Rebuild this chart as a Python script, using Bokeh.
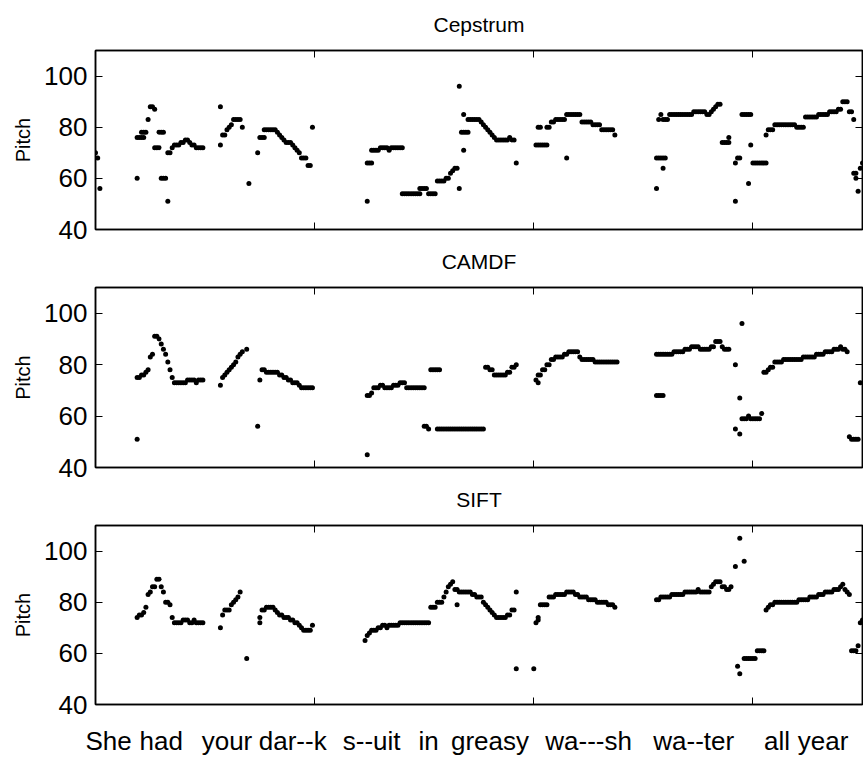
from bokeh.plotting import figure
from bokeh.models import Range1d, FixedTicker, LinearAxis, CustomJSTickFormatter
from bokeh.layouts import column
from bokeh.embed import file_html
from bokeh.resources import INLINE

# ---------------- data ----------------
panel_titles = ["Cepstrum", "CAMDF", "SIFT"]
y_label = "Pitch"
y_ticks = [40, 60, 80, 100]
x_ticks = [100, 200, 300]
x_limits = [0, 350]
y_limits = [40, 110]
words = ["She", "had", "your", "dar--k", "s--uit", "in", "greasy", "wa---sh", "wa--ter", "all", "year"]
word_frames = [6, 30, 60, 90, 126, 152, 180, 225, 273, 311, 332]

# (start frame, pitch values on consecutive frames)
cepstrum_segments = [
    (0, [70]), (1, [68]), (2, [56]),
    (19, [60]), (19, [76, 76, 76, 76]), (21, [78, 78, 78]), (24, [83]), (25, [88, 88]), (27, [87]),
    (27, [72, 72, 72]), (29, [78, 78, 78]), (30, [60, 60, 60]), (33, [51]), (33, [70, 70]),
    (35, [72, 73, 73, 73, 74, 74, 75, 75, 74, 73, 73, 72, 72, 72, 72]),
    (57, [73]), (57, [88]), (58, [77, 77]), (60, [79, 80, 81]), (63, [83, 83, 83, 83]), (67, [80]),
    (70, [58]), (74, [70]), (75, [76, 76, 76]), (77, [79, 79, 79, 79, 79, 79]),
    (83, [78, 77, 76, 75, 74, 74, 74, 73, 72, 71, 70, 68, 68, 68, 65, 65]), (99, [80]),
    (124, [51]), (124, [66, 66, 66]), (126, [71, 71, 71, 71]), (130, [72, 72, 72, 72]), (134, [71]),
    (135, [72, 72, 72, 72, 72, 72]), (140, [54, 54, 54, 54, 54, 54, 54, 54, 54]),
    (148, [56, 56, 56, 56]), (152, [54, 54, 54, 54]), (156, [59, 59, 59, 59]), (160, [60, 60]),
    (162, [62, 63, 64, 64]),
    (166, [96]), (166, [56]), (167, [78, 78, 78, 78]), (168, [71]), (168, [85]),
    (170, [83, 83, 83, 83, 83, 83]), (176, [82, 81, 80, 79, 78, 77, 76, 75]),
    (184, [75, 75, 75, 75, 75, 76, 75, 75]), (192, [66]),
    (201, [73, 73, 73, 73, 73, 73]), (202, [80, 80]), (206, [80, 80]), (208, [82, 82]),
    (210, [83, 83, 83, 83, 83]), (215, [68]), (215, [85, 85, 85, 85, 85, 85, 85]),
    (222, [82, 82, 82, 82, 82]), (227, [81, 81, 81, 81]), (231, [79, 79, 79, 79, 79, 79]), (237, [77]),
    (256, [56]), (256, [68, 68, 68, 68, 68]), (259, [64]), (257, [83]), (258, [85]), (259, [83, 83, 83]),
    (262, [85, 85, 85, 85, 85, 85, 85, 85, 85, 85, 85]), (273, [86, 86, 86, 86, 86, 86]), (279, [85, 85]),
    (281, [86, 87, 88, 89, 89]), (286, [74, 74, 74, 74]), (289, [76]),
    (292, [51]), (292, [66]), (293, [68, 68]), (295, [85, 85, 85, 85, 85]), (298, [58]), (299, [73]),
    (300, [66, 66, 66, 66, 66, 66, 66]), (306, [77]), (307, [79, 79, 79]),
    (310, [81, 81, 81, 81, 81, 81, 81, 81, 81, 81]), (320, [80, 80, 80, 80]),
    (324, [84, 84, 84, 84, 84, 84]), (330, [85, 85, 85, 85, 85]), (335, [86, 86, 86, 86]),
    (339, [87, 87]), (341, [90, 90, 90]), (344, [86, 86]), (346, [83]), (346, [62, 62]), (347, [60]),
    (348, [55]), (349, [64]), (350, [66]),
]

camdf_segments = [
    (19, [51]), (19, [75, 75, 76, 76, 77, 78]), (25, [83, 84]), (27, [91, 91, 90]),
    (30, [88, 86, 84, 81, 78, 75]), (36, [73, 73, 73, 73, 73, 73]), (42, [74, 74, 74, 74, 73, 74, 74, 74]),
    (57, [72]), (58, [75, 76, 77, 78, 79, 80, 81]), (65, [83, 84, 85]), (69, [86]),
    (74, [56]), (75, [74]),
    (76, [78, 78, 77, 77, 77, 77, 77, 77, 76, 76, 75, 75, 74, 74, 73, 73, 73, 72, 71, 71, 71, 71, 71, 71]),
    (124, [45]), (124, [68, 68, 69]), (127, [71, 71, 71]), (130, [72, 72]), (132, [71, 71, 71, 71]),
    (136, [72, 72, 72]), (139, [73, 73, 73]), (142, [71, 71, 71, 71, 71, 71, 71, 71, 71]),
    (150, [56, 56]), (152, [55]), (153, [78, 78, 78, 78, 78]),
    (156, [55, 55, 55, 55, 55, 55, 55, 55, 55, 55, 55, 55, 55, 55, 55, 55, 55, 55, 55, 55, 55, 55]),
    (178, [79, 79]), (180, [78, 78]), (182, [76, 76, 76, 76, 76, 76]), (188, [77, 77]), (190, [79, 79]),
    (192, [80]),
    (201, [74]), (202, [73]), (202, [76, 76]), (204, [78, 78]), (206, [80, 80]), (208, [82, 82]),
    (210, [83, 83, 83, 83]), (214, [84, 84]), (216, [85, 85, 85, 85, 85]), (221, [83]),
    (222, [82, 82, 82, 82, 82, 82]), (228, [81, 81, 81, 81, 81, 81, 81, 81, 81, 81, 81]),
    (256, [68, 68, 68, 68]), (256, [84, 84, 84, 84, 84, 84, 84, 84]), (264, [85, 85, 85, 85, 85]),
    (269, [86, 86, 86]), (272, [87, 87, 87, 87]), (276, [86, 86, 86, 86, 86]), (281, [87, 87]),
    (283, [89, 89, 89]), (286, [87]), (287, [86, 86, 86]),
    (292, [80]), (292, [55]), (294, [67]), (294, [53]), (295, [96]),
    (295, [59, 59, 59, 60, 59, 59, 59, 59, 59, 61]), (305, [77, 77]), (307, [78, 79, 79]),
    (310, [81, 81, 81, 81]), (314, [82, 82, 82, 82, 82, 82, 82, 82, 82]), (323, [83, 83, 83, 83, 83, 83]),
    (329, [84, 84, 84, 84]), (333, [85, 85, 85, 85]), (337, [86, 86, 86, 87, 86, 86]), (343, [85]),
    (344, [52]), (345, [51, 51, 51, 51]), (349, [73]),
]

sift_segments = [
    (19, [74, 75, 75, 76, 78]), (24, [83, 84, 86, 86, 89, 89, 86, 84, 80, 80, 79, 74]),
    (36, [72, 72, 72, 72, 73, 73, 73, 72, 72, 73, 72, 72, 72, 72]),
    (57, [70]), (58, [75]), (59, [77, 77, 77]), (62, [79, 80, 81, 82, 84]),
    (69, [58]), (75, [72]), (75, [74]), (76, [77, 77]), (78, [78, 78, 78, 78]),
    (82, [77, 76, 75, 75, 74, 74, 74, 73, 73, 72, 72, 71, 70, 69, 69, 69, 69, 71]),
    (123, [65]), (124, [67, 68]), (126, [69, 69, 69]), (129, [70, 70, 71, 71]), (133, [70]),
    (134, [71, 71, 71, 71, 71]), (139, [72, 72, 72, 72, 72, 72, 72, 72, 72, 72, 72, 72, 72, 72]),
    (153, [78, 78, 78]), (156, [80, 80, 80]), (159, [82, 84, 86, 87, 88]), (164, [85, 85]), (165, [79]),
    (166, [84, 84, 84, 84, 84, 84]), (172, [83, 83, 82, 82, 82]), (177, [80, 79, 78, 77, 76, 75, 74]),
    (184, [74, 74, 74, 74]), (188, [75, 75]), (190, [77, 77]), (192, [84]), (192, [54]), (200, [54]),
    (201, [72, 73]), (202, [74]), (203, [79, 79, 79, 79]), (207, [82, 82, 82]), (210, [83, 83, 83, 83, 83]),
    (215, [84, 84, 84, 84]), (219, [83, 83]), (221, [82, 82, 82, 82]), (225, [81, 81, 81, 81]),
    (229, [80, 80, 80, 80, 80]), (234, [79, 79, 79, 78]),
    (256, [81, 81]), (258, [82, 82, 82, 82, 82]), (263, [83, 83, 83, 83, 83, 83]),
    (269, [84, 84, 84, 84, 84, 84]), (275, [85]), (276, [84, 84, 84, 84, 84]),
    (281, [86, 87, 88, 88, 88, 86, 86, 85, 85, 86]),
    (292, [94]), (293, [55]), (294, [105]), (294, [52]), (296, [96]), (296, [58, 58, 58, 58, 58, 58]),
    (302, [61, 61, 61, 61]), (306, [77]), (307, [78, 79, 79]),
    (310, [80, 80, 80, 80, 80, 80, 80, 80, 80, 80, 80]), (321, [81, 81, 81, 81, 81]),
    (326, [82, 82, 82, 82]), (330, [83, 83, 83]), (333, [84, 84, 84, 84]), (337, [85, 85, 85]),
    (340, [86, 87]), (342, [85, 84, 83]), (345, [61, 61, 61]), (348, [63]), (349, [72, 73]),
]

panel_segments = [cepstrum_segments, camdf_segments, sift_segments]

# ---------------- drawing ----------------
FONT = "Liberation Sans"
FRAME_W = 767


def flatten(segments):
    xs, ys = [], []
    for start, vals in segments:
        for i, v in enumerate(vals):
            xs.append(start + i)
            ys.append(v)
    return xs, ys


def blank_labels(ax):
    ax.formatter = CustomJSTickFormatter(code="return ''")
    ax.major_label_text_font_size = "0px"
    ax.major_label_standoff = 0


def style_ticks(ax, ticks):
    ax.ticker = FixedTicker(ticks=ticks)
    ax.major_tick_in = 7
    ax.major_tick_out = 0
    ax.minor_tick_in = 0
    ax.minor_tick_out = 0
    ax.major_tick_line_color = "black"
    ax.major_tick_line_width = 1
    ax.axis_line_color = "black"
    ax.axis_line_width = 1.5


def make_panel(title, segments, frame_h, min_top, min_bottom, with_words):
    p = figure(title=None, frame_width=FRAME_W, frame_height=frame_h,
               x_range=Range1d(*x_limits), y_range=Range1d(*y_limits),
               output_backend="svg", toolbar_location=None,
               min_border_left=95, min_border_right=1,
               min_border_top=min_top, min_border_bottom=min_bottom,
               background_fill_color="white", border_fill_color="white")
    p.outline_line_color = "black"
    p.outline_line_width = 1.5
    p.xgrid.visible = False
    p.ygrid.visible = False

    yax = p.yaxis[0]
    style_ticks(yax, y_ticks)
    yax.major_label_text_font = FONT
    yax.major_label_text_font_size = "26px"
    yax.major_label_text_color = "black"
    yax.major_label_standoff = 8
    yax.axis_label = y_label
    yax.axis_label_text_font = FONT
    yax.axis_label_text_font_size = "20px"
    yax.axis_label_text_font_style = "normal"
    yax.axis_label_text_color = "black"
    yax.axis_label_standoff = 7

    xax = p.xaxis[0]
    style_ticks(xax, x_ticks)
    blank_labels(xax)

    # top axis: inward ticks, panel title as its label (centred over the frame)
    top = LinearAxis()
    style_ticks(top, x_ticks)
    blank_labels(top)
    top.axis_label = title
    top.axis_label_text_font = FONT
    top.axis_label_text_font_size = "21px"
    top.axis_label_text_font_style = "normal"
    top.axis_label_text_color = "black"
    top.axis_label_standoff = 15
    p.add_layout(top, "above")

    right = LinearAxis()
    style_ticks(right, y_ticks)
    blank_labels(right)
    p.add_layout(right, "right")

    if with_words:
        wax = LinearAxis(ticker=FixedTicker(ticks=word_frames),
                         major_label_overrides={f: w for f, w in zip(word_frames, words)})
        wax.axis_line_color = None
        wax.major_tick_line_color = None
        wax.minor_tick_line_color = None
        wax.major_tick_in = 0
        wax.major_tick_out = 0
        wax.major_label_text_font = FONT
        wax.major_label_text_font_size = "26px"
        wax.major_label_text_color = "black"
        wax.major_label_standoff = 21
        p.add_layout(wax, "below")

    xs, ys = flatten(segments)
    p.scatter(xs, ys, marker="circle", size=5, fill_color="black", line_color=None)
    return p


p1 = make_panel(panel_titles[0], panel_segments[0], 179, 50, 16, False)
p2 = make_panel(panel_titles[1], panel_segments[1], 180, 42, 16, False)
p3 = make_panel(panel_titles[2], panel_segments[2], 179, 42, 16, True)

layout = column(p1, p2, p3, spacing=0)

with open("out.html", "w") as f:
    f.write(file_html(layout, INLINE))
